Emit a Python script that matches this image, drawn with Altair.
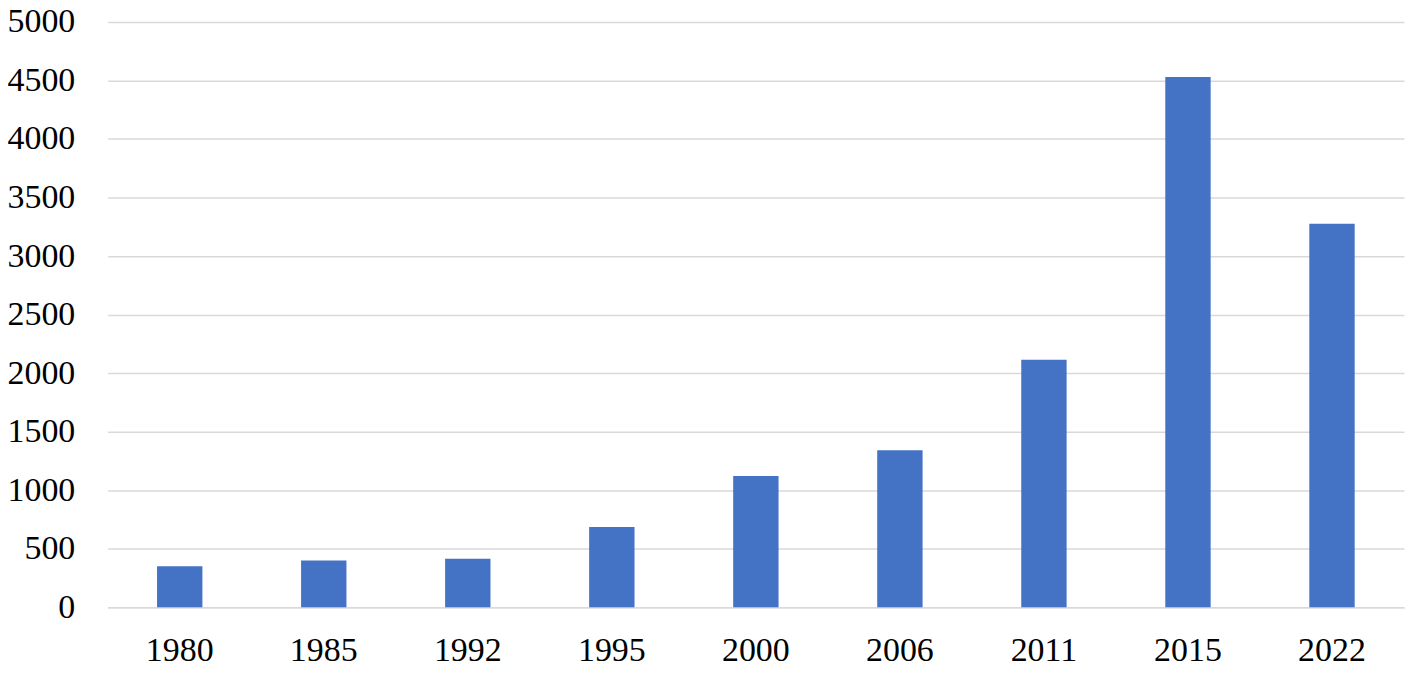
import altair as alt
import pandas as pd

years = ["1980", "1985", "1992", "1995", "2000", "2006", "2011", "2015", "2022"]
values = [350, 400, 415, 685, 1120, 1340, 2115, 4530, 3275]
y_ticks = [0, 500, 1000, 1500, 2000, 2500, 3000, 3500, 4000, 4500, 5000]

df = pd.DataFrame({"year": years, "value": values})

FONT = "Liberation Serif"

chart = alt.Chart(df).mark_bar(color="#4472C4").encode(
    x=alt.X("year:N", sort=years, title=None,
            scale=alt.Scale(paddingInner=0.685, paddingOuter=0.3425),
            axis=alt.Axis(labelAngle=0, labelFont=FONT, labelFontSize=34,
                          labelColor="#000000", labelPadding=26,
                          ticks=False, domain=True, domainColor="#d9d9d9",
                          domainWidth=1.5)),
    y=alt.Y("value:Q", title=None,
            scale=alt.Scale(domain=[0, 5000], nice=False),
            axis=alt.Axis(values=y_ticks, format="d", labelFont=FONT,
                          labelFontSize=34, labelColor="#000000",
                          labelPadding=33, ticks=False, domain=False,
                          grid=True, gridColor="#d9d9d9", gridWidth=1.5)),
).properties(
    width=1300,
    height=587,
    background="white",
    autosize=alt.AutoSizeParams(type="none"),
    padding={"left": 100, "top": 13, "right": 5, "bottom": 60},
).configure_view(strokeWidth=0, stroke="transparent")

chart.save("out.html", embed_options={"renderer": "svg", "actions": False})
